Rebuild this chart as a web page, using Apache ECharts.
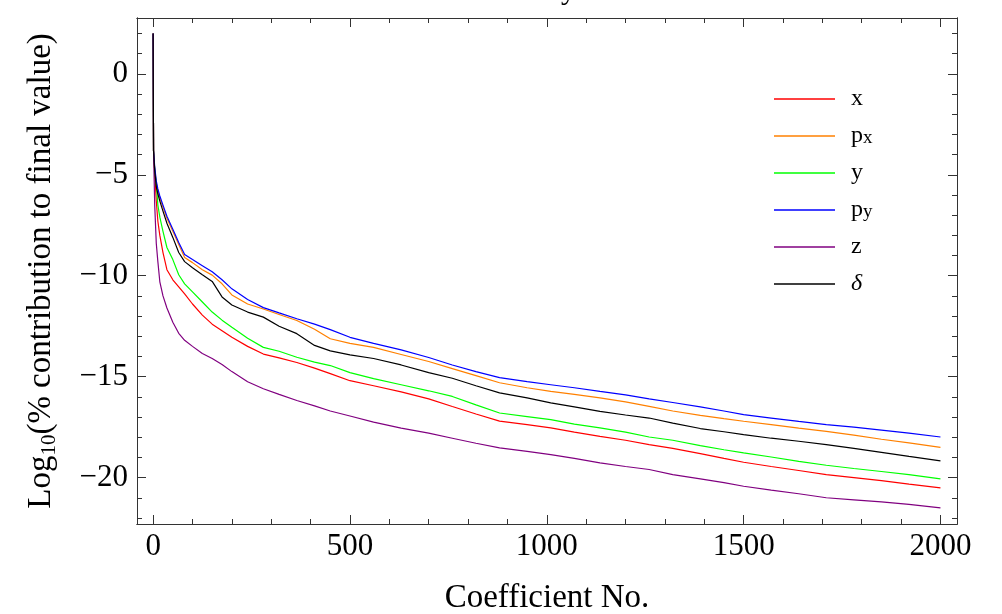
<!DOCTYPE html>
<html>
<head>
<meta charset="utf-8">
<script src="https://cdn.jsdelivr.net/npm/echarts@6/dist/echarts.min.js"></script>
<style>
html,body{margin:0;padding:0;background:#fff;}
#chart{width:1002px;height:614px;}
</style>
</head>
<body>
<div id="chart"></div>
<script>
// Coefficient numbers (x values)
const coeffNo = [0, 1, 4, 8, 12, 17, 25, 35, 50, 65, 80, 100, 125, 150, 175, 200, 240, 280, 320, 365, 410, 450, 500, 560, 630, 700, 760, 820, 880, 950, 1010, 1070, 1135, 1200, 1260, 1320, 1390, 1450, 1500, 1570, 1640, 1710, 1780, 1850, 1920, 2000];

// Log10(% contribution to final value) for each variable
const xVals  = [2.0, -3.8, -4.9, -6.3, -7.3, -8.0, -8.85, -9.7, -10.2, -10.55, -10.9, -11.4, -11.95, -12.4, -12.72, -13.05, -13.5, -13.88, -14.07, -14.3, -14.58, -14.85, -15.2, -15.45, -15.75, -16.1, -16.48, -16.85, -17.2, -17.38, -17.54, -17.75, -17.96, -18.15, -18.37, -18.55, -18.81, -19.05, -19.24, -19.45, -19.65, -19.85, -20.0, -20.15, -20.32, -20.51];
const pxVals = [2.0, -3.8, -4.7, -5.4, -5.8, -6.15, -6.6, -7.15, -7.8, -8.45, -9.1, -9.35, -9.7, -9.97, -10.4, -10.95, -11.4, -11.65, -11.92, -12.22, -12.65, -13.12, -13.35, -13.55, -13.9, -14.25, -14.6, -14.95, -15.3, -15.55, -15.73, -15.88, -16.05, -16.25, -16.47, -16.7, -16.92, -17.08, -17.21, -17.38, -17.55, -17.71, -17.9, -18.1, -18.28, -18.5];
const yVals  = [2.0, -3.8, -4.8, -5.4, -6.5, -7.1, -7.8, -8.6, -9.2, -9.95, -10.4, -10.8, -11.3, -11.8, -12.2, -12.55, -13.1, -13.55, -13.74, -14.04, -14.28, -14.45, -14.8, -15.1, -15.4, -15.7, -15.98, -16.4, -16.8, -16.98, -17.13, -17.35, -17.54, -17.75, -17.99, -18.15, -18.42, -18.62, -18.78, -18.98, -19.2, -19.39, -19.55, -19.7, -19.85, -20.06];
const pyVals = [2.0, -3.8, -4.6, -5.3, -5.7, -6.05, -6.5, -7.05, -7.7, -8.35, -8.95, -9.2, -9.5, -9.8, -10.2, -10.65, -11.18, -11.58, -11.84, -12.13, -12.4, -12.67, -13.05, -13.35, -13.67, -14.05, -14.42, -14.75, -15.05, -15.25, -15.4, -15.55, -15.73, -15.9, -16.1, -16.28, -16.5, -16.7, -16.88, -17.05, -17.22, -17.38, -17.5, -17.65, -17.8, -17.99];
const zVals  = [2.0, -3.8, -6.5, -8.4, -9.3, -10.3, -11.0, -11.6, -12.3, -12.85, -13.2, -13.5, -13.85, -14.1, -14.4, -14.75, -15.25, -15.6, -15.88, -16.18, -16.45, -16.7, -16.95, -17.25, -17.55, -17.8, -18.05, -18.3, -18.53, -18.7, -18.86, -19.05, -19.27, -19.45, -19.6, -19.85, -20.06, -20.25, -20.43, -20.62, -20.8, -21.0, -21.1, -21.2, -21.33, -21.5];
const deltaVals = [2.0, -3.8, -4.8, -5.6, -5.95, -6.3, -6.8, -7.4, -8.1, -8.85, -9.3, -9.6, -9.95, -10.28, -11.05, -11.45, -11.8, -12.05, -12.5, -12.87, -13.45, -13.72, -13.92, -14.1, -14.42, -14.8, -15.08, -15.45, -15.8, -16.05, -16.3, -16.5, -16.72, -16.9, -17.05, -17.3, -17.57, -17.73, -17.87, -18.05, -18.2, -18.37, -18.55, -18.75, -18.95, -19.17];

const seriesNames = ['x', 'px', 'y', 'py', 'z', 'δ'];
const seriesColors = ['#ff0000', '#ff8000', '#00ff00', '#0000ff', '#800080', '#000000'];

// Tick values
const xMajorTicks = [0, 500, 1000, 1500, 2000];
const xMinorTicks = [0,100,200,300,400,500,600,700,800,900,1000,1100,1200,1300,1400,1500,1600,1700,1800,1900,2000];
const yMajorTicks = [-20, -15, -10, -5, 0];
const yMinorTicks = [-22,-21,-20,-19,-18,-17,-16,-15,-14,-13,-12,-11,-10,-9,-8,-7,-6,-5,-4,-3,-2,-1,0,1,2];

const allVals = [xVals, pxVals, yVals, pyVals, zVals, deltaVals];

const FONT = '"Liberation Serif","DejaVu Serif",serif';
const AX = '#333';

function xAxisDef(pos, ticks, len, withLabels) {
  return {
    type: 'value', position: pos, min: -41, max: 2042,
    axisLine: {show: true, onZero: false, lineStyle: {color: AX, width: 1}},
    axisTick: {show: true, inside: true, length: len, customValues: ticks, lineStyle: {color: AX, width: 1}},
    axisLabel: withLabels ? {show: true, customValues: xMajorTicks, fontSize: 31, fontFamily: FONT, color: '#000', margin: 7,
      formatter: v => String(v)} : {show: false},
    splitLine: {show: false}
  };
}
function yAxisDef(pos, ticks, len, withLabels) {
  return {
    type: 'value', position: pos, min: -22.3, max: 2.77,
    axisLine: {show: true, onZero: false, lineStyle: {color: AX, width: 1}},
    axisTick: {show: true, inside: true, length: len, customValues: ticks, lineStyle: {color: AX, width: 1}},
    axisLabel: withLabels ? {show: true, customValues: yMajorTicks, fontSize: 31, fontFamily: FONT, color: '#000', margin: 9,
      formatter: v => String(v).replace('-', '\u2212')} : {show: false},
    splitLine: {show: false}
  };
}

const xAxes = [
  Object.assign(xAxisDef('bottom', xMajorTicks, 9, true), {
    name: 'Coefficient No.', nameLocation: 'middle', nameGap: 58,
    nameTextStyle: {fontSize: 33, fontFamily: FONT, color: '#000'}
  }),
  xAxisDef('bottom', xMinorTicks, 5, false),
  xAxisDef('top', xMajorTicks, 9, false),
  xAxisDef('top', xMinorTicks, 5, false)
];
const yAxes = [
  Object.assign(yAxisDef('left', yMajorTicks, 9, true), {
    name: '{m|Log}{s|10}{m|(% contribution to final value)}', nameLocation: 'middle', nameGap: 77, nameRotate: 90,
    nameTextStyle: {fontSize: 33, fontFamily: FONT, color: '#000',
      rich: {m: {fontSize: 33, fontFamily: FONT, color: '#000', lineHeight: 38},
             s: {fontSize: 21, fontFamily: FONT, color: '#000', verticalAlign: 'bottom', lineHeight: 6}}}
  }),
  yAxisDef('left', yMinorTicks, 5, false),
  yAxisDef('right', yMajorTicks, 9, false),
  yAxisDef('right', yMinorTicks, 5, false)
];

const legendText = {
  'x': '{m|x}', 'px': '{m|p}{s|x}', 'y': '{m|y}', 'py': '{m|p}{s|y}', 'z': '{m|z}', 'δ': '{i|δ}'
};

const chart = echarts.init(document.getElementById('chart'), null, {renderer: 'canvas'});
chart.setOption({
  animation: false,
  backgroundColor: '#fff',
  grid: {left: 137, right: 45, top: 18, bottom: 90, containLabel: false, outerBoundsMode: 'none'},
  xAxis: xAxes,
  yAxis: yAxes,
  legend: {
    orient: 'vertical', left: 769, top: 82, itemGap: 13, itemWidth: 61, itemHeight: 1.4,
    icon: 'rect',
    data: seriesNames,
    formatter: n => legendText[n],
    textStyle: {padding: [0, 0, 0, 11], rich: {
      m: {fontSize: 24, fontFamily: FONT, color: '#000', lineHeight: 24},
      s: {fontSize: 19, fontFamily: FONT, color: '#000', verticalAlign: 'bottom', lineHeight: 10},
      i: {fontSize: 24, fontFamily: FONT, fontStyle: 'italic', color: '#000', lineHeight: 24}
    }}
  },
  graphic: [{
    type: 'text', left: 561, top: -24, silent: true,
    style: {text: 'y', font: '30px ' + FONT, fill: '#000'}
  }],
  series: seriesNames.map((name, i) => ({
    name: name, type: 'line', xAxisIndex: 0, yAxisIndex: 0,
    symbol: 'none', smooth: false,
    lineStyle: {color: seriesColors[i], width: 1.2},
    itemStyle: {color: seriesColors[i]},
    data: coeffNo.map((c, k) => [c, allVals[i][k]])
  }))
});
</script>
</body>
</html>
